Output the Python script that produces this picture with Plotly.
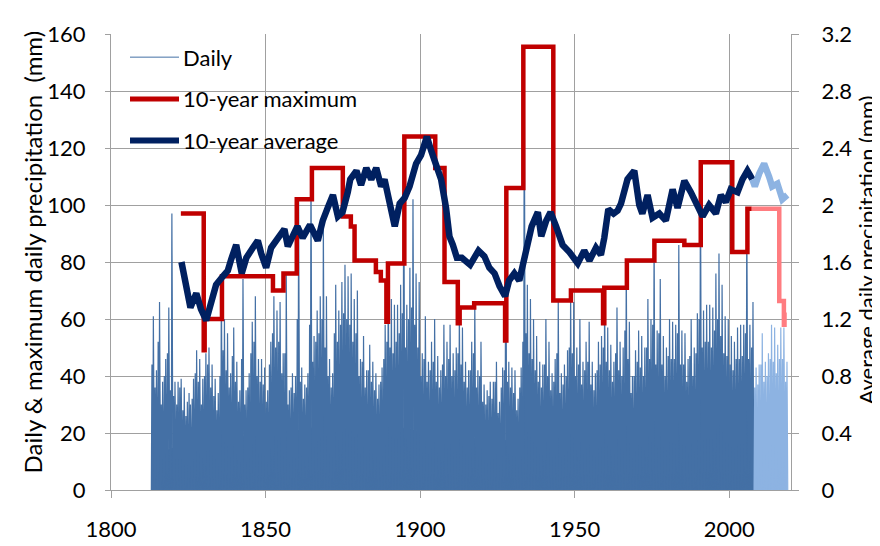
import plotly.graph_objects as go

# ---------------- data ----------------
years = list(range(1813, 2019))
recent_start = 2008

# annual largest daily precipitation (mm), 1813-2018
daily_peak = [
    61, 42, 66, 38, 46, 64, 97, 38, 38, 39,
    36, 31, 30, 39, 49, 46, 39, 48, 50, 44,
    39, 34, 75, 60, 55, 41, 57, 45, 35, 74,
    35, 41, 59, 68, 46, 46, 43, 35, 52, 68,
    63, 66, 48, 76, 35, 41, 40, 102, 43, 37,
    41, 113, 54, 63, 68, 95, 68, 46, 41, 72,
    63, 73, 79, 75, 76, 67, 70, 46, 54, 42,
    51, 45, 41, 37, 43, 58, 80, 67, 65, 65,
    72, 124, 65, 78, 102, 76, 73, 48, 61, 45,
    52, 60, 47, 42, 58, 52, 58, 48, 50, 64,
    57, 45, 42, 52, 66, 42, 52, 37, 35, 38,
    38, 45, 31, 43, 106, 45, 43, 42, 32, 43,
    156, 72, 67, 60, 54, 45, 44, 60, 52, 41,
    46, 66, 41, 44, 49, 70, 66, 50, 60, 45,
    52, 59, 45, 41, 52, 54, 71, 57, 51, 45,
    64, 52, 50, 81, 59, 40, 49, 56, 54, 50,
    67, 60, 88, 56, 74, 54, 50, 60, 59, 58,
    86, 56, 55, 46, 60, 50, 62, 115, 63, 65,
    65, 64, 76, 83, 72, 61, 60, 54, 52, 57,
    58, 58, 99, 58, 66, 43, 44, 55, 45, 48,
    58, 57, 51, 57, 57, 45,
]

# another large day in each year (mm)
daily_second = [
    44, 36, 52, 30, 40, 48, 35, 33, 30, 36,
    28, 26, 34, 32, 41, 38, 30, 40, 44, 36,
    33, 28, 40, 49, 42, 36, 47, 38, 31, 46,
    30, 36, 48, 52, 40, 38, 37, 31, 44, 55,
    50, 52, 41, 48, 30, 36, 34, 60, 38, 32,
    36, 58, 45, 52, 55, 60, 50, 40, 36, 55,
    52, 58, 62, 60, 58, 52, 55, 40, 45, 36,
    42, 38, 35, 32, 38, 46, 52, 50, 48, 52,
    55, 62, 50, 60, 64, 58, 50, 40, 46, 38,
    42, 45, 38, 36, 44, 40, 46, 40, 42, 48,
    44, 38, 36, 42, 48, 36, 40, 31, 30, 33,
    32, 38, 27, 36, 42, 38, 36, 34, 28, 36,
    52, 55, 48, 46, 42, 38, 36, 44, 40, 35,
    38, 48, 34, 37, 40, 50, 48, 40, 44, 37,
    42, 45, 37, 35, 42, 44, 50, 45, 42, 38,
    48, 42, 40, 56, 46, 34, 40, 45, 43, 40,
    50, 46, 58, 44, 55, 44, 40, 47, 46, 46,
    55, 44, 44, 38, 47, 40, 48, 60, 50, 52,
    52, 50, 56, 60, 54, 48, 47, 44, 42, 46,
    46, 47, 55, 46, 50, 36, 37, 44, 38, 40,
    46, 45, 41, 46, 46, 38,
]

# level that ordinary wet days fill densely (mm), 5-year blocks from 1813
base_start = list(range(1813, 2019, 5))
daily_base = [
    13, 15, 13, 16, 17, 18, 20, 19, 22, 21,
    22, 23, 22, 20, 19, 21, 22, 20, 19, 18,
    19, 17, 18, 17, 20, 19, 20, 20, 19, 21,
    23, 24, 24, 25, 25, 26, 27, 28, 29, 27,
    26, 25,
]

# 10-year maximum daily precipitation (mm): step start years and levels
max_years = [1822.6, 1830.0, 1830.3, 1835.9, 1852.4, 1855.8, 1860.1, 1865.0,
             1875.0, 1877.6, 1878.8, 1885.7, 1887.3, 1889.1, 1889.6, 1894.9,
             1904.9, 1907.9, 1912.2, 1912.8, 1917.5, 1927.5, 1927.9, 1933.4,
             1943.1, 1948.8, 1959.2, 1959.6, 1966.9, 1975.8, 1985.5, 1990.8,
             2001.0, 2005.9, 2007.3]
max_vals = [97, 49, 60, 75, 70, 76, 102, 113,
            96, 92.5, 80.5, 76.5, 73.5, 59, 79.5, 124,
            113, 73, 58.5, 64, 65.5, 52.5, 106, 155.5,
            66.5, 70, 58.5, 71, 80.5, 87.5, 86, 115,
            83.5, 98.7, 98.7]
max_years_recent = [2007.3, 2016.2, 2017.7, 2017.9, 2018.4]
max_vals_recent = [98.7, 66.3, 58, 62.3, 62.3]

# 10-year average daily precipitation (mm)
avg_years = [1822.8, 1823.5, 1824.3, 1825.7, 1827.6, 1829.1, 1830.8, 1832.4, 1834.0,
             1836.2, 1837.8, 1838.9, 1840.5, 1842.3, 1843.8, 1845.9, 1847.5, 1848.6,
             1850.2, 1851.8, 1853.4, 1856.1, 1857.2, 1858.8, 1860.3, 1862.0, 1864.4,
             1866.9, 1868.5, 1870.1, 1871.8, 1873.4, 1874.9, 1876.6, 1877.4, 1879.4,
             1880.9, 1882.6, 1884.2, 1885.8, 1887.4, 1888.5, 1890.1, 1891.8, 1893.4,
             1895.0, 1896.6, 1897.7, 1898.7, 1900.3, 1902.2, 1903.6, 1905.2, 1906.8,
             1908.4, 1909.5, 1910.6, 1911.9, 1913.5, 1916.2, 1918.9, 1920.8, 1922.4,
             1924.1, 1925.7, 1927.5, 1928.8, 1930.5, 1932.1, 1934.0, 1936.1, 1938.1,
             1939.2, 1940.8, 1942.2, 1944.0, 1946.1, 1948.3, 1951.0, 1953.1, 1954.8,
             1956.9, 1958.5, 1959.6, 1960.9, 1962.6, 1963.9, 1965.0, 1966.3, 1967.1,
             1969.3, 1970.9, 1971.9, 1973.6, 1975.2, 1977.4, 1979.5, 1981.7, 1983.3,
             1985.5, 1987.6, 1989.2, 1991.4, 1993.5, 1995.7, 1997.3, 1998.9, 2000.5,
             2002.7, 2004.3, 2005.9, 2007.5]
avg_vals = [1.60, 1.53, 1.46, 1.28, 1.38, 1.27, 1.19, 1.34, 1.44,
            1.50, 1.54, 1.62, 1.72, 1.52, 1.63, 1.70, 1.75, 1.66,
            1.56, 1.70, 1.75, 1.83, 1.71, 1.78, 1.85, 1.77, 1.86,
            1.75, 1.89, 1.98, 2.07, 1.92, 1.95, 2.09, 2.18, 2.24,
            2.14, 2.26, 2.18, 2.26, 2.13, 2.18, 2.02, 1.85, 2.01,
            2.05, 2.13, 2.20, 2.29, 2.35, 2.48, 2.38, 2.26, 2.18,
            1.98, 1.78, 1.72, 1.63, 1.63, 1.58, 1.68, 1.64, 1.56,
            1.52, 1.43, 1.36, 1.47, 1.52, 1.47, 1.67, 1.85, 1.95,
            1.78, 1.89, 1.95, 1.85, 1.72, 1.67, 1.59, 1.68, 1.61,
            1.70, 1.65, 1.77, 1.97, 1.94, 1.96, 2.01, 2.13, 2.18,
            2.24, 2.00, 1.94, 2.07, 1.91, 1.94, 1.89, 2.11, 1.98,
            2.17, 2.09, 2.02, 1.92, 2.00, 1.94, 2.07, 2.02, 2.11,
            2.09, 2.18, 2.24, 2.18]
avg_years_recent = [2007.5, 2008.3, 2009.7, 2011.3, 2012.9, 2013.9, 2015.6, 2017.2, 2018.8]
avg_vals_recent = [2.18, 2.13, 2.22, 2.29, 2.20, 2.13, 2.15, 2.04, 2.07]

# ---------------- style ----------------
FONT = "Lato"
FS = 22
DARK_BLUE = "#4470A5"
LIGHT_BLUE = "#8DB3E2"
RED = "#C00000"
LIGHT_RED = "#FF7C80"
NAVY = "#002060"
GRID = "#A0A0A0"

W, H = 880, 546
L, R, T, B = 103, 783, 18, 504.5


def px(x):
    return (x - L) / (R - L)


def py(y):
    return (B - y) / (B - T)


def zigzag(yrs, peaks, seconds):
    xs, ys = [], []
    for yr, p, s in zip(yrs, peaks, seconds):
        xs += [yr + 0.05, yr + 0.25, yr + 0.45, yr + 0.5, yr + 0.7, yr + 0.95]
        ys += [0, s, 0, 0, p, 0]
    return xs, ys


old = [i for i, yr in enumerate(years) if yr < recent_start]
new = [i for i, yr in enumerate(years) if yr >= recent_start]

fig = go.Figure()

# dense base of ordinary days
old_blocks = [i for i, s in enumerate(base_start) if s < recent_start]
new_blocks = [i for i, s in enumerate(base_start) if s >= recent_start]
bx_old = [years[0]] + [base_start[i] + 2.5 for i in old_blocks] + [recent_start]
by_old = [daily_base[old_blocks[0]]] + [daily_base[i] for i in old_blocks] + [daily_base[old_blocks[-1]]]
bx_new = [recent_start] + [base_start[i] + 2.5 for i in new_blocks[:-1]] + [years[-1] + 0.4]
by_new = [daily_base[new_blocks[0]]] + [daily_base[i] for i in new_blocks[:-1]] + [daily_base[new_blocks[-1]]]

fig.add_trace(go.Scatter(x=bx_old, y=by_old, mode="lines", fill="tozeroy",
                         line=dict(width=0, color=DARK_BLUE), fillcolor=DARK_BLUE,
                         hoverinfo="skip", showlegend=False))
fig.add_trace(go.Scatter(x=bx_new, y=by_new, mode="lines", fill="tozeroy",
                         line=dict(width=0, color=LIGHT_BLUE), fillcolor=LIGHT_BLUE,
                         hoverinfo="skip", showlegend=False))

sx, sy = zigzag([years[i] for i in old], [daily_peak[i] for i in old], [daily_second[i] for i in old])
fig.add_trace(go.Scatter(x=sx, y=sy, mode="lines", fill="tozeroy", fillcolor=DARK_BLUE,
                         line=dict(width=1.2, color=DARK_BLUE), name="Daily", showlegend=False))
sx, sy = zigzag([years[i] for i in new], [daily_peak[i] for i in new], [daily_second[i] for i in new])
fig.add_trace(go.Scatter(x=sx, y=sy, mode="lines", fill="tozeroy", fillcolor=LIGHT_BLUE,
                         line=dict(width=1.2, color=LIGHT_BLUE), showlegend=False))

# 10-year maximum
fig.add_trace(go.Scatter(x=max_years, y=max_vals, mode="lines", line_shape="hv",
                         line=dict(width=4.5, color=RED), name="10-year maximum", showlegend=False))
fig.add_trace(go.Scatter(x=max_years_recent, y=max_vals_recent, mode="lines", line_shape="hv",
                         line=dict(width=4.5, color=LIGHT_RED), showlegend=False))

# 10-year average (right axis)
fig.add_trace(go.Scatter(x=avg_years, y=avg_vals, mode="lines", yaxis="y2",
                         line=dict(width=6.5, color=NAVY), name="10-year average", showlegend=False))
fig.add_trace(go.Scatter(x=avg_years_recent, y=avg_vals_recent, mode="lines", yaxis="y2",
                         line=dict(width=6.5, color=LIGHT_BLUE), showlegend=False))

tickfont = dict(family=FONT, size=FS, color="#000000")

fig.update_layout(
    width=W, height=H,
    margin=dict(l=L, r=W - R, t=T, b=H - B),
    paper_bgcolor="white", plot_bgcolor="white",
    showlegend=False,
    font=dict(family=FONT, size=FS, color="#000000"),
    xaxis=dict(range=[1800, 2020], tickvals=[1800, 1850, 1900, 1950, 2000],
               showgrid=True, gridcolor=GRID, gridwidth=1,
               showline=True, linecolor=GRID, linewidth=1,
               ticks="outside", ticklen=7, tickcolor=GRID,
               tickfont=tickfont, ticklabelstandoff=13, zeroline=False),
    yaxis=dict(range=[0, 160], dtick=20, showgrid=True, gridcolor=GRID, gridwidth=1,
               showline=True, linecolor=GRID, linewidth=1,
               ticks="outside", ticklen=5, tickcolor=GRID,
               tickfont=tickfont, ticklabelstandoff=15, zeroline=False),
    yaxis2=dict(range=[0, 3.2], dtick=0.4, overlaying="y", side="right",
                showgrid=False, showline=True, linecolor=GRID, linewidth=1,
                ticks="outside", ticklen=7, tickcolor=GRID,
                tickfont=tickfont, ticklabelstandoff=18, zeroline=False),
)

# axis titles
fig.add_annotation(x=px(24), y=py(251), xref="paper", yref="paper", showarrow=False,
                   text="Daily &amp; maximum daily precipitation&nbsp;&nbsp;(mm)", textangle=-90,
                   font=dict(family=FONT, size=24, color="#000000"),
                   xanchor="center", yanchor="middle")
fig.add_annotation(x=px(859), y=py(249), xref="paper", yref="paper", showarrow=False,
                   text="Average daily precipitation (mm)", textangle=-90,
                   font=dict(family=FONT, size=FS, color="#000000"),
                   xanchor="center", yanchor="middle")

# legend
legend_rows = [("Daily", DARK_BLUE, 1, 42.7), ("10-year maximum", RED, 5, 87.3),
               ("10-year average", NAVY, 6, 131.7)]
for label, color, wid, yy in legend_rows:
    fig.add_shape(type="line", xref="paper", yref="paper", x0=px(122), x1=px(171),
                  y0=py(yy), y1=py(yy), line=dict(color=color, width=wid))
    fig.add_annotation(x=px(173), y=py(yy), xref="paper", yref="paper", showarrow=False,
                       text=label, xanchor="left", yanchor="middle",
                       font=dict(family=FONT, size=FS, color="#000000"))

fig.write_html("out.html")
